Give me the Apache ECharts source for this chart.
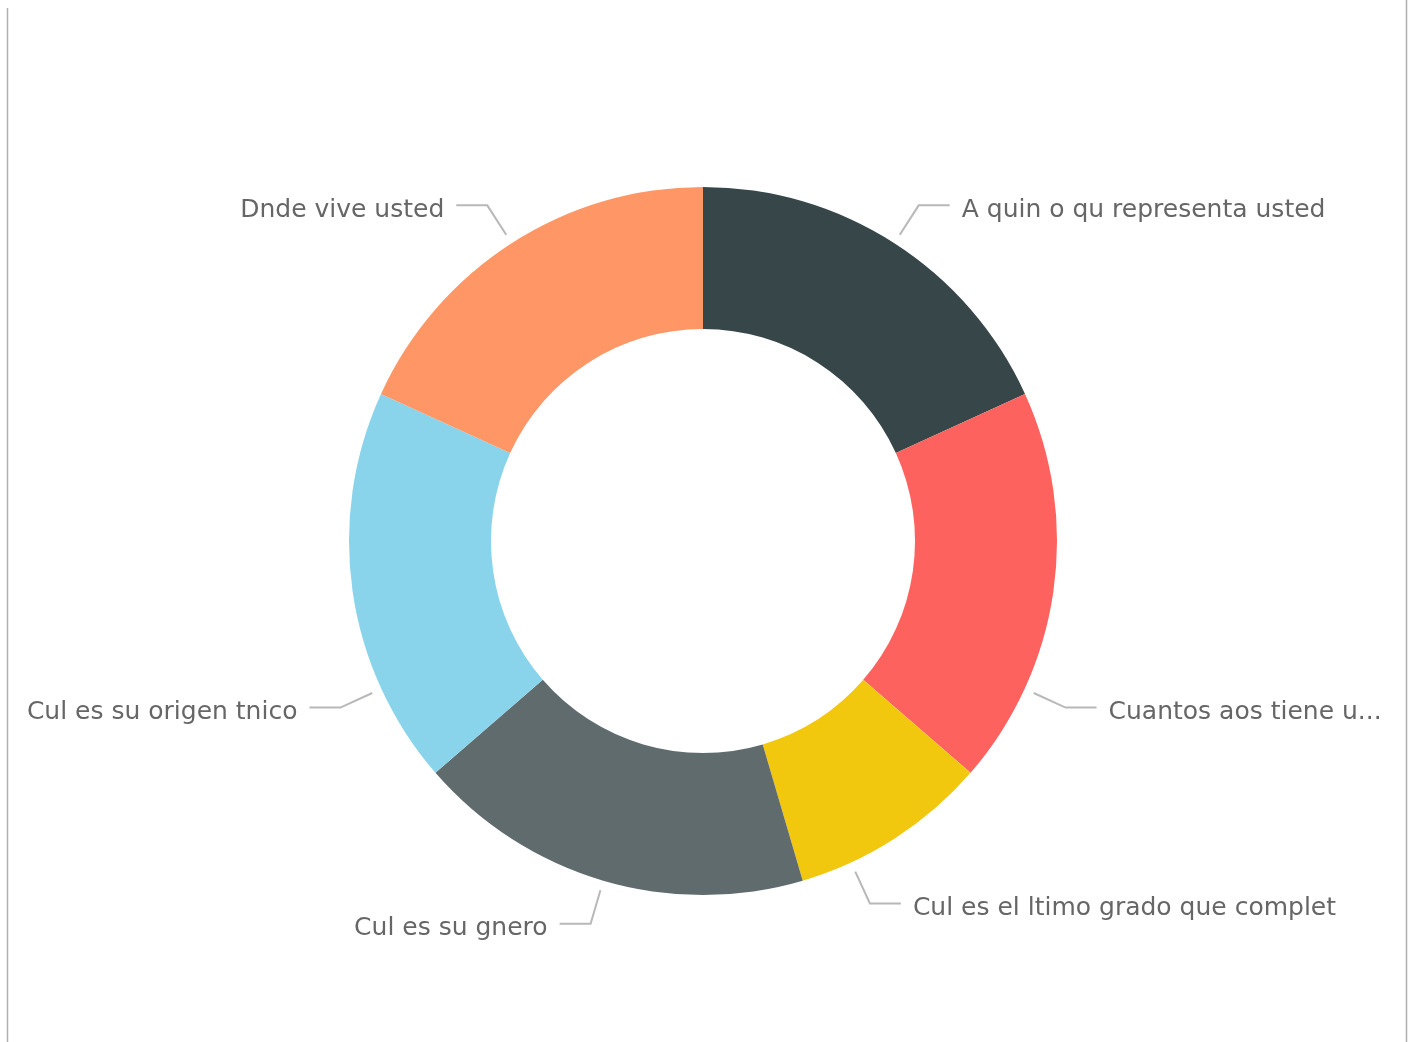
<!DOCTYPE html>
<html>
<head>
<meta charset="utf-8">
<script src="https://cdn.jsdelivr.net/npm/echarts@6/dist/echarts.min.js"></script>
<style>
html,body{margin:0;padding:0;background:#fff;}
#chart{width:1414px;height:1042px;}
</style>
</head>
<body>
<div id="chart"></div>
<script>
// Data
var categories = [
  'A quin o qu representa usted',
  'Cuantos aos tiene u...',
  'Cul es el ltimo grado que complet',
  'Cul es su gnero',
  'Cul es su origen tnico',
  'Dnde vive usted'
];
var values = [2, 2, 1, 2, 2, 2];
var colors = ['#374649', '#FD625E', '#F2C80F', '#5F6B6D', '#8AD4EB', '#FE9666'];

// Layout (not data): label angle shifts in degrees relative to slice middle
var labelShift = [0, 16.5, 8, 0, -16.5, 0];
var CX = 703, CY = 541, R_IN = 212, R_OUT = 354;

var total = values.reduce(function (a, b) { return a + b; }, 0);
var midAngles = [];
(function () {
  var acc = 0;
  for (var i = 0; i < values.length; i++) {
    midAngles.push((acc + values[i] / 2) / total * 360);
    acc += values[i];
  }
})();

function pt(angDeg, r) {
  var a = angDeg * Math.PI / 180;
  return [CX + r * Math.sin(a), CY - r * Math.cos(a)];
}

var chart = echarts.init(document.getElementById('chart'));
chart.setOption({
  animation: false,
  graphic: [
    { type: 'line', shape: { x1: 7.5, y1: 8, x2: 7.5, y2: 1042 }, style: { stroke: '#b0b0b0', lineWidth: 1.5 } },
    { type: 'line', shape: { x1: 1406.5, y1: 0, x2: 1406.5, y2: 1042 }, style: { stroke: '#b0b0b0', lineWidth: 1.5 } }
  ],
  series: [{
    type: 'pie',
    center: [CX, CY],
    radius: [R_IN, R_OUT],
    startAngle: 90,
    clockwise: true,
    avoidLabelOverlap: false,
    data: categories.map(function (c, i) {
      return { name: c, value: values[i], itemStyle: { color: colors[i] } };
    }),
    itemStyle: { borderWidth: 0 },
    label: {
      show: true,
      formatter: '{b}',
      color: '#666666',
      fontSize: 25,
      fontFamily: 'DejaVu Sans'
    },
    labelLine: {
      show: true,
      length: 35,
      length2: 30,
      lineStyle: { color: '#b8b8b8', width: 2 }
    },
    labelLayout: function (params) {
      var i = params.dataIndex;
      var ang = midAngles[i] + labelShift[i];
      var right = (ang % 360) < 180;
      var s = pt(ang, 364);
      var e = pt(ang, 399);
      var endX = e[0] + (right ? 31 : -31);
      return {
        x: endX + (right ? 12 : -12),
        y: e[1] + 5,
        align: right ? 'left' : 'right',
        verticalAlign: 'middle',
        labelLinePoints: [s, e, [endX, e[1]]]
      };
    }
  }]
});
</script>
</body>
</html>
